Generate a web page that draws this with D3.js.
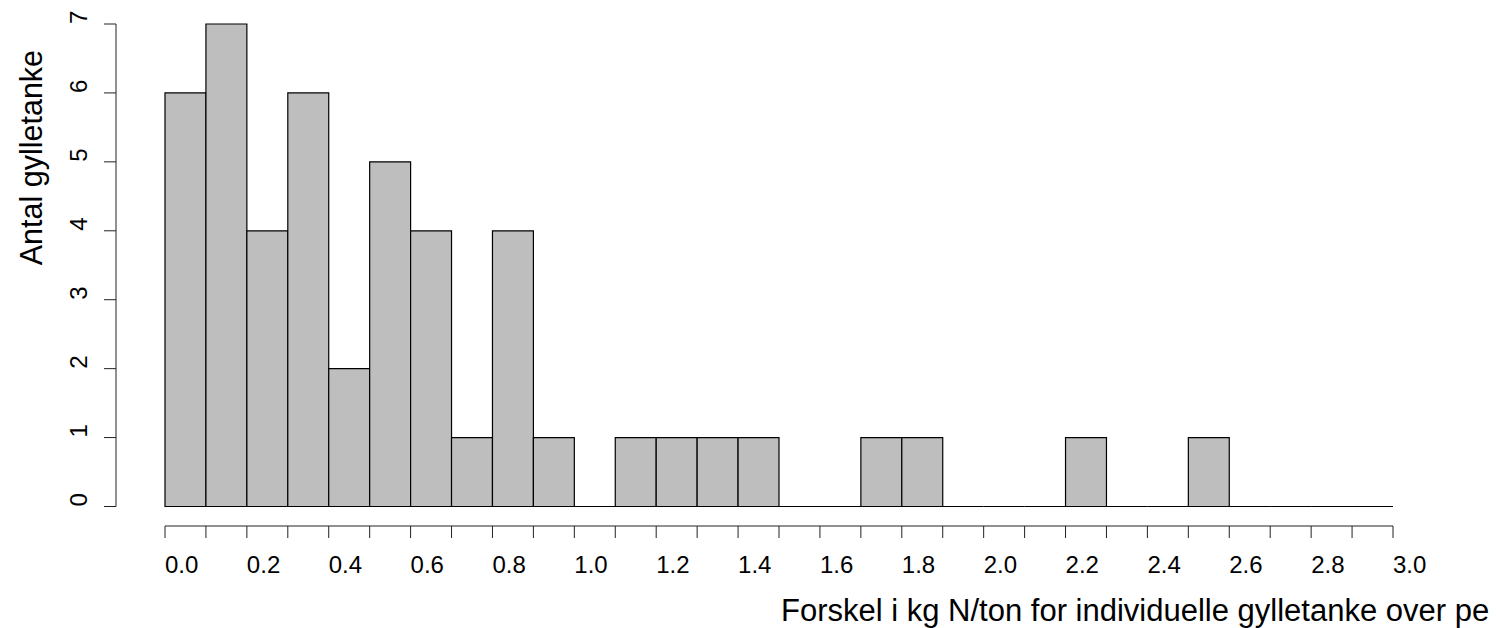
<!DOCTYPE html>
<html>
<head>
<meta charset="utf-8">
<script src="https://cdn.jsdelivr.net/npm/d3@7"></script>
<style>
  body { margin: 0; background: #fff; }
  text { font-family: "Liberation Sans", Arial, sans-serif; fill: #000; }
</style>
</head>
<body>
<div id="chart"></div>
<script>
var width = 1496, height = 628;

// histogram breaks (kg N/ton) and counts per bin
var breaks = [0.0, 0.1, 0.2, 0.3, 0.4, 0.5, 0.6, 0.7, 0.8, 0.9, 1.0,
              1.1, 1.2, 1.3, 1.4, 1.5, 1.6, 1.7, 1.8, 1.9, 2.0,
              2.1, 2.2, 2.3, 2.4, 2.5, 2.6, 2.7, 2.8, 2.9, 3.0];
var counts = [6, 7, 4, 6, 2, 5, 4, 1, 4, 1,
              0, 1, 1, 1, 1, 0, 0, 1, 1, 0,
              0, 0, 1, 0, 0, 1, 0, 0, 0, 0];
var xLabels = ["0.0", "0.2", "0.4", "0.6", "0.8", "1.0", "1.2", "1.4",
               "1.6", "1.8", "2.0", "2.2", "2.4", "2.6", "2.8", "3.0"];
var yTicks = [0, 1, 2, 3, 4, 5, 6, 7];

var xTitle = "Forskel i kg N/ton for individuelle gylletanke over pe";
var yTitle = "Antal gylletanke";

var svg = d3.select("#chart")
  .append("svg")
    .attr("width", width)
    .attr("height", height);

var x = d3.scaleLinear().domain([0, 3]).range([165, 1393]);
var y = d3.scaleLinear().domain([0, 7]).range([506.5, 24]);

var bins = counts.map(function(c, i) {
  return {x0: breaks[i], x1: breaks[i + 1], n: c};
});

svg.append("g")
  .selectAll("path")
  .data(bins)
  .enter().append("path")
    .attr("d", function(d) {
      return "M" + x(d.x0) + "," + y(0) + "V" + y(d.n) + "H" + x(d.x1) + "V" + y(0) + "Z";
    })
    .attr("fill", "#bebebe")
    .attr("stroke", "#000")
    .attr("stroke-width", 1.2);

// x axis: tick at every break, labels start at every other one
var xAxis = svg.append("g").attr("transform", "translate(0,526)");
xAxis.append("line")
    .attr("x1", x(breaks[0])).attr("x2", x(breaks[breaks.length - 1]))
    .attr("stroke", "#222");
xAxis.selectAll(".tick")
  .data(breaks)
  .enter().append("line")
    .attr("x1", function(d) { return x(d); })
    .attr("x2", function(d) { return x(d); })
    .attr("y2", 12)
    .attr("stroke", "#222");
xAxis.selectAll("text")
  .data(xLabels)
  .enter().append("text")
    .attr("x", function(d) { return x(+d); })
    .attr("y", 47)
    .attr("font-size", 24)
    .text(function(d) { return d; });

// y axis
var yAxis = svg.append("g").attr("transform", "translate(116,0)");
yAxis.append("line")
    .attr("y1", y(0)).attr("y2", y(7))
    .attr("stroke", "#222");
yAxis.selectAll(".tick")
  .data(yTicks)
  .enter().append("line")
    .attr("y1", function(d) { return y(d); })
    .attr("y2", function(d) { return y(d); })
    .attr("x2", -12)
    .attr("stroke", "#222");
yAxis.selectAll("text")
  .data(yTicks)
  .enter().append("text")
    .attr("transform", function(d) { return "translate(-29," + y(d) + ") rotate(-90)"; })
    .attr("font-size", 24)
    .text(function(d) { return d; });

svg.append("text")
    .attr("x", (x.range()[0] + x.range()[1]) / 2 + 2)
    .attr("y", 621)
    .attr("font-size", 31)
    .text(xTitle);

svg.append("text")
    .attr("transform", "translate(42," + (y.range()[0] + y.range()[1]) / 2 + ") rotate(-90)")
    .attr("font-size", 30.5)
    .text(yTitle);
</script>
</body>
</html>
